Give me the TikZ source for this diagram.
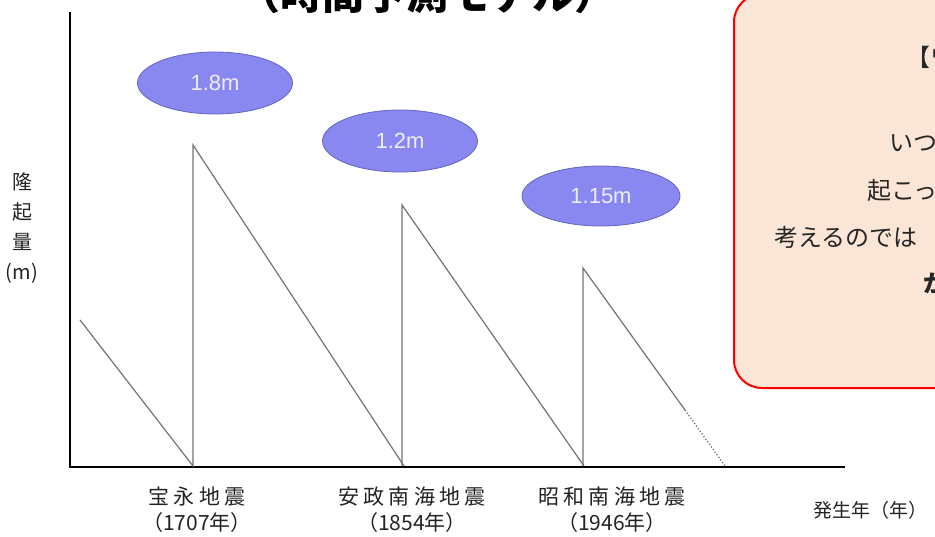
\documentclass[tikz,border=0pt]{standalone}
\usepackage{fontspec}
\setmainfont{Noto Sans CJK JP}
\newfontfamily\bubblefont{Liberation Sans}
\newfontfamily\spacedfont[LetterSpace=20]{Noto Sans CJK JP}
\usetikzlibrary{shapes.geometric}

\definecolor{peach}{RGB}{251,229,214}
\definecolor{bubblefill}{RGB}{136,136,240}
\definecolor{bubbleedge}{RGB}{100,100,190}
\definecolor{labelgray}{RGB}{35,35,35}

\newcommand{\quakename}[1]{{\spacedfont #1}}

\tikzset{
  bubble/.style={ellipse, fill=bubblefill, draw=bubbleedge, thick,
    minimum width=155pt, minimum height=62pt, inner sep=0pt,
    text=white!85!bubblefill, font=\bubblefont\fontsize{22}{22}\selectfont},
  quake/.style={align=center, text=labelgray, font=\fontsize{21}{26}\selectfont},
  boxtext/.style={anchor=west, text=black!85, font=\fontsize{24}{24}\selectfont},
  saw/.style={black!55, line width=1.2pt}
}

\begin{document}
\begin{tikzpicture}[x=1pt,y=-1pt]
    \useasboundingbox (0,0) rectangle (935,536);

    % Title (cut off at the top)
    \node[anchor=base, font=\fontsize{42}{42}\selectfont\bfseries] (title) at (427,9) {（時間予測モデル）};

    % Note box on the right
    \draw[red, line width=2pt, fill=peach, rounded corners=28pt] (734,-6) rectangle (1000,388);
    \node[boxtext] (head) at (903,57) {【ワ};
    \node[boxtext] (lineA) at (886,143) {いつ};
    \node[boxtext] (lineB) at (864,190) {起こっ};
    \node[boxtext] (lineC) at (771,237) {考えるのでは};
    \node[boxtext, font=\fontsize{24}{24}\selectfont\bfseries] (lineD) at (920,283) {か};

    % Axes
    \draw[line width=2.5pt] (70,12) -- (70,467) -- (845,467);

    % Uplift, then slow sinking
    \draw[saw] (80,320) -- (193,466) -- (193,145) -- (404,466);
    \draw[saw] (402,466) -- (402,205) -- (584,466);
    \draw[saw] (583,466) -- (583,268) -- (685,410);
    \draw[saw, dotted, line width=1.4pt] (685,410) -- (725,466);

    % Uplift amounts
    \node[bubble] (hoei) at (215,83) {1.8m};
    \node[bubble] (ansei) at (400,141) {1.2m};
    \node[bubble, minimum width=158pt, minimum height=60pt] (showa) at (601,196) {1.15m};

    % Axis labels
    \node[quake, font=\fontsize{20}{30}\selectfont] (ylabel) at (22,228) {隆\\起\\量\\(m)};
    \node[quake] (hoeiyear) at (197,510) {\quakename{宝永地震}\\（1707年）};
    \node[quake] (anseiyear) at (412,510) {\quakename{安政南海地震}\\（1854年）};
    \node[quake] (showayear) at (612,510) {\quakename{昭和南海地震}\\（1946年）};
    \node[quake, anchor=west, font=\fontsize{19}{26}\selectfont] (xlabel) at (810,510) {発生年（年）};
\end{tikzpicture}
\end{document}
